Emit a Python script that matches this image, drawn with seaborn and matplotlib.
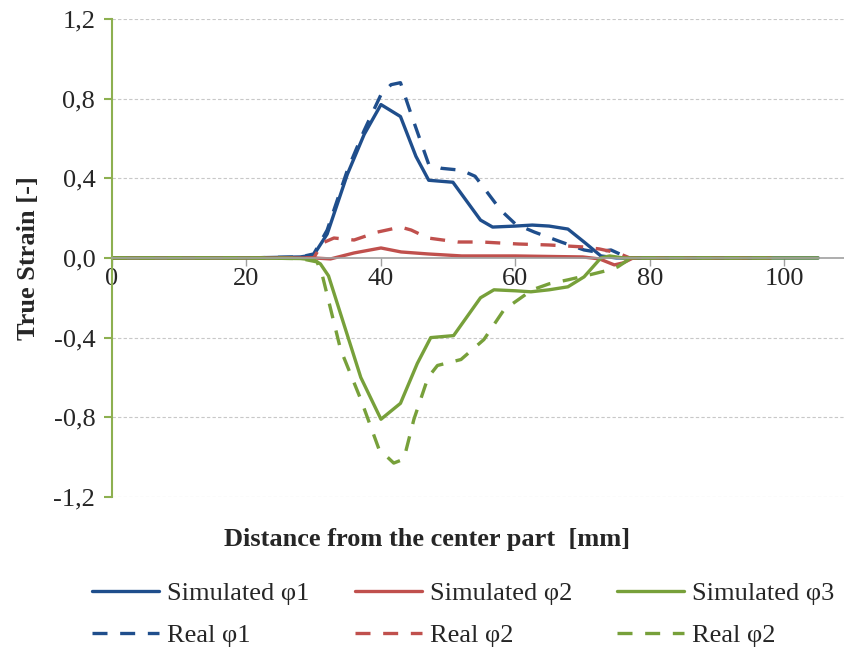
import numpy as np
import pandas as pd
import matplotlib
matplotlib.use("Agg")
import matplotlib.pyplot as plt
import seaborn as sns
from matplotlib.ticker import FuncFormatter

# data (distance in mm, true strain)
sim1_x = [0, 10, 20, 28, 30, 32, 35, 37.5, 40, 42.9, 45.2, 47.1, 50.7, 54.8, 56.6, 60, 62.5, 65, 67.8, 70.2, 72.7, 75, 80, 90, 105]
sim1_y = [0, 0, 0, 0.005, 0.015, 0.12, 0.42, 0.62, 0.77, 0.71, 0.51, 0.39, 0.38, 0.19, 0.155, 0.16, 0.165, 0.16, 0.145, 0.08, 0.01, 0.0, 0, 0, 0]

real1_x = [0, 10, 20, 28, 30, 32, 35, 37.5, 40, 41.5, 42.9, 44.5, 47.1, 49, 52, 54, 57.8, 60, 62.8, 66.8, 70.2, 72, 74.2, 75.5, 77, 85, 98]
real1_y = [0, 0, 0, 0.005, 0.02, 0.14, 0.44, 0.64, 0.82, 0.87, 0.88, 0.72, 0.47, 0.45, 0.44, 0.41, 0.24, 0.17, 0.13, 0.08, 0.04, 0.03, 0.04, 0.02, 0, 0, 0]

sim2_x = [0, 10, 20, 30, 32.5, 36, 40, 43, 47, 52, 60, 70, 72.5, 74.7, 76, 77.5, 85, 98]
sim2_y = [0, 0, 0, 0, -0.005, 0.025, 0.05, 0.03, 0.02, 0.01, 0.01, 0.005, -0.005, -0.035, -0.025, 0, 0, 0]

real2_x = [0, 10, 20, 30, 31.3, 33, 36, 39.5, 42.9, 44.5, 47, 51.4, 55, 60.4, 65, 70.2, 72.5, 75.2, 77, 85, 98]
real2_y = [0, 0, 0, 0.0, 0.075, 0.1, 0.09, 0.13, 0.155, 0.14, 0.1, 0.08, 0.08, 0.07, 0.065, 0.055, 0.045, 0.025, 0, 0, 0]

sim3_x = [0, 10, 20, 28, 30, 31, 32.2, 37, 40, 42.9, 45.4, 47.4, 50.8, 54.8, 56.8, 60, 62.3, 65, 67.8, 70.2, 72.7, 74, 76, 80, 90, 105]
sim3_y = [0, 0, 0, -0.003, -0.01, -0.03, -0.09, -0.6, -0.81, -0.73, -0.53, -0.40, -0.39, -0.2, -0.16, -0.165, -0.17, -0.16, -0.145, -0.095, 0.0, 0.01, 0.0, 0, 0, 0]

real3_x = [0, 10, 20, 28, 30.5, 31.3, 34, 37, 39.7, 41.9, 43.4, 44.9, 47, 48.4, 51.9, 55.3, 58.3, 60.4, 62.5, 65, 67.8, 71, 74, 75.2, 77.2, 85, 98]
real3_y = [0, 0, 0, -0.003, -0.02, -0.09, -0.46, -0.71, -0.96, -1.03, -1.01, -0.81, -0.6, -0.54, -0.51, -0.41, -0.26, -0.21, -0.16, -0.13, -0.11, -0.085, -0.06, -0.045, 0.0, 0, 0]

labels = ["Simulated φ1", "Real φ1", "Simulated φ2", "Real φ2", "Simulated φ3", "Real φ2"]
blue = "#1F4E8C"
red = "#C0504D"
green = "#77A03A"

sns.set_style("white")
plt.rcParams["font.family"] = ["Liberation Serif", "DejaVu Serif"]

fig = plt.figure(figsize=(8.45, 6.53), dpi=100)
ax = fig.add_axes([0.1325, 0.239, 0.8675, 0.732])

series = [
    (sim1_x, sim1_y, blue, "-"),
    (real1_x, real1_y, blue, (0, (4.5, 3.8))),
    (sim2_x, sim2_y, red, "-"),
    (real2_x, real2_y, red, (0, (4.5, 3.8))),
    (sim3_x, sim3_y, green, "-"),
    (real3_x, real3_y, green, (0, (4.5, 3.8))),
]
for (x, y, c, ls), lab in zip(series, labels):
    sns.lineplot(x=x, y=y, ax=ax, color=c, linestyle=ls, linewidth=2.4,
                 label=lab, sort=False, estimator=None)

ax.set_xlim(0, 109)
ax.set_ylim(-1.2, 1.2)
ax.set_yticks([-1.2, -0.8, -0.4, 0, 0.4, 0.8, 1.2])
ax.yaxis.set_major_formatter(FuncFormatter(lambda v, p: f"{v:.1f}".replace(".", ",").replace("-0,0", "0,0")))
ax.set_xticks([0, 20, 40, 60, 80, 100])

for yv in [-1.2, -0.8, -0.4, 0.4, 0.8, 1.2]:
    ax.axhline(yv, color="#C8C8C8", linestyle=(0, (3, 2)), linewidth=0.8, zorder=0)

for s in ["top", "right"]:
    ax.spines[s].set_visible(False)
ax.spines["left"].set_color("#8DB050")
ax.spines["left"].set_linewidth(1.5)

# x axis line sits at zero, tick labels just under it
ax.spines["bottom"].set_position(("data", 0))
ax.spines["bottom"].set_color("#A0A0A0")
ax.spines["bottom"].set_linewidth(1.2)

ax.tick_params(axis="y", direction="out", length=6, color="#8DB050", width=1.5,
               labelsize=19, pad=6, left=True)
ax.tick_params(axis="x", direction="out", length=6, color="#A0A0A0", width=1.0,
               labelsize=19, pad=1, bottom=True)

ax.set_xlabel("Distance from the center part  [mm]", fontsize=19, fontweight="bold")
ax.xaxis.set_label_coords(0.43, -0.065)
ax.set_ylabel("True Strain [-]", fontsize=19, fontweight="bold", labelpad=10)

ax.legend(ncol=3, loc="upper left", bbox_to_anchor=(-0.027, -0.178), frameon=False,
          fontsize=19, handlelength=2.55, handletextpad=0.3, columnspacing=1.7,
          labelspacing=0.7, borderpad=0, borderaxespad=0)

fig.savefig("out.png", dpi=100)
